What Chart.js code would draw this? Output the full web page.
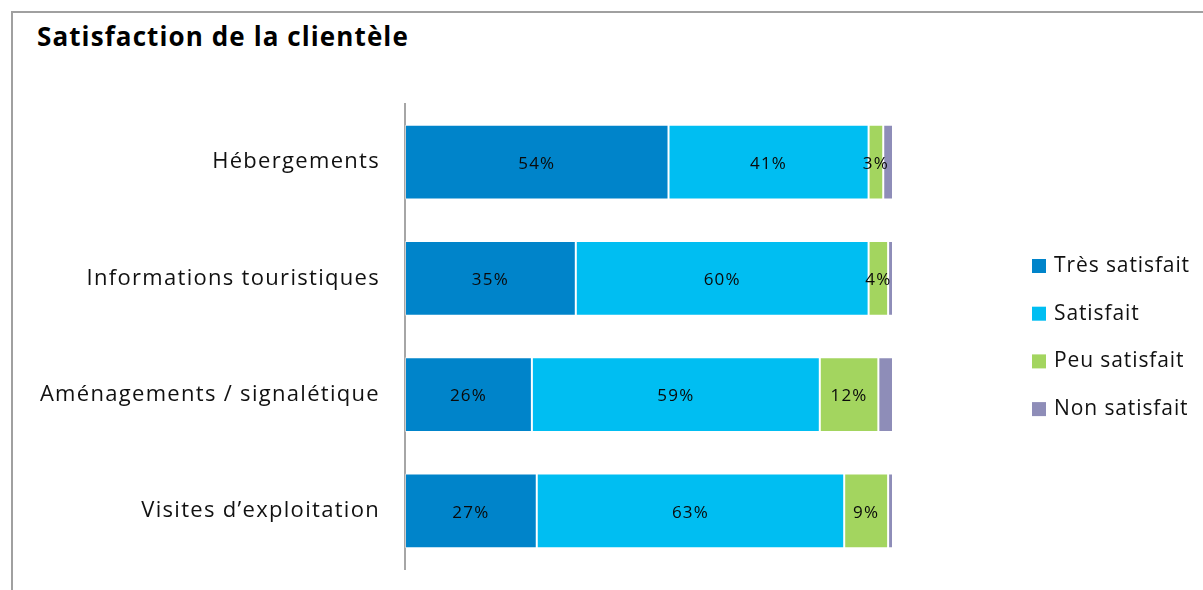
<!DOCTYPE html>
<html lang="fr">
<head>
<meta charset="utf-8">
<title>Satisfaction de la clientèle</title>
<script src="https://cdn.jsdelivr.net/npm/chart.js@4.4.1/dist/chart.umd.min.js"></script>
<style>
    html, body {
        margin: 0;
        padding: 0;
        background: #ffffff;
        width: 1203px;
        height: 590px;
        overflow: hidden;
    }

    .frame {
        position: absolute;
        left: 11px;
        top: 11px;
        right: 0;
        bottom: 0;
        border-top: 2px solid #a0a0a0;
        border-left: 2px solid #a0a0a0;
    }

    .title {
        position: absolute;
        left: 37px;
        top: 18px;
        font-family: "Open Sans", sans-serif;
        font-weight: 700;
        font-size: 26px;
        letter-spacing: 1.1px;
        color: #000000;
    }

    #chartBox {
        position: absolute;
        left: 0;
        top: 0;
        width: 1203px;
        height: 590px;
    }
</style>
</head>
<body>

<div class="frame"></div>
<div class="title">Satisfaction de la clientèle</div>

<div id="chartBox">
    <canvas id="satisfactionChart"></canvas>
</div>

<script>
/* =========================
   DATA
========================= */

const categories = [
    'Hébergements',
    'Informations touristiques',
    'Aménagements / signalétique',
    'Visites d\u2019exploitation'
];

const seriesLabels = [
    'Très satisfait',
    'Satisfait',
    'Peu satisfait',
    'Non satisfait'
];

const tresSatisfait = [54, 35, 26, 27];
const satisfait     = [41, 60, 59, 63];
const peuSatisfait  = [3, 4, 12, 9];
const nonSatisfait  = [2, 1, 3, 1];

const seriesColors = ['#0084ca', '#00bef2', '#a3d55f', '#8e8db8'];

// only the first three series carry a value label
const labelledSeries = [true, true, true, false];

/* =========================
   TEXT SPACING PLUGIN
========================= */

// widen the tick labels a little, the font is narrower than the house one
const tickSpacing = {

    id: 'tickSpacing',

    beforeDraw(chart) {
        chart.ctx.letterSpacing = '1.3px';
    },

    afterDraw(chart) {
        chart.ctx.letterSpacing = '0px';
    }
};

/* =========================
   VALUE LABELS PLUGIN
========================= */

const valueLabels = {

    id: 'valueLabels',

    afterDatasetsDraw(chart) {

        const ctx = chart.ctx;

        ctx.save();
        ctx.font = '17px "Open Sans", sans-serif';
        ctx.letterSpacing = '1.2px';
        ctx.fillStyle = '#0a0a0a';
        ctx.textAlign = 'center';
        ctx.textBaseline = 'middle';

        chart.data.datasets.forEach((dataset, di) => {

            if (!labelledSeries[di]) return;

            const meta = chart.getDatasetMeta(di);

            meta.data.forEach((bar, i) => {
                const x = (bar.x + bar.base) / 2;
                ctx.fillText(dataset.data[i] + '%', x, bar.y + 2);
            });
        });

        ctx.restore();
    }
};

/* =========================
   SIDE LEGEND PLUGIN
========================= */

const sideLegend = {

    id: 'sideLegend',

    afterDraw(chart) {

        const ctx = chart.ctx;
        const left = 1032;
        const top = 266;
        const step = 47.7;

        ctx.save();
        ctx.font = '21px "Open Sans", sans-serif';
        ctx.letterSpacing = '0.9px';
        ctx.textAlign = 'left';
        ctx.textBaseline = 'middle';

        chart.data.datasets.forEach((dataset, i) => {

            const y = top + i * step;

            ctx.fillStyle = dataset.backgroundColor;
            ctx.fillRect(left, y - 7, 14, 14);

            ctx.fillStyle = '#111111';
            ctx.fillText(dataset.label, left + 22, y);
        });

        ctx.restore();
    }
};

/* =========================
   CHART
========================= */

const datasetValues = [tresSatisfait, satisfait, peuSatisfait, nonSatisfait];

const context =
    document
        .getElementById('satisfactionChart')
        .getContext('2d');

new Chart(context, {

    type: 'bar',

    data: {

        labels: categories,

        datasets: datasetValues.map((values, i) => ({
            label: seriesLabels[i],
            data: values,
            backgroundColor: seriesColors[i],
            borderColor: 'rgba(255,255,255,0.45)',
            borderWidth: 1,
            borderSkipped: false,
            categoryPercentage: 1,
            barPercentage: 0.645
        }))
    },

    options: {

        indexAxis: 'y',
        responsive: true,
        maintainAspectRatio: false,
        animation: false,

        layout: {
            padding: {
                top: 104,
                bottom: 21,
                left: 0,
                right: 310
            }
        },

        plugins: {
            legend: { display: false },
            title: { display: false },
            tooltip: { enabled: false }
        },

        scales: {

            x: {
                stacked: true,
                min: 0,
                max: 100,
                display: false
            },

            y: {
                stacked: true,
                afterFit(scale) {
                    // fixed label column, no extra room above/below the axis
                    scale.width = 405;
                    scale.paddingTop = 0;
                    scale.paddingBottom = 0;
                },
                grid: {
                    display: false,
                    drawTicks: false
                },
                border: {
                    display: true,
                    color: '#a6a6a6',
                    width: 2
                },
                ticks: {
                    padding: 25,
                    color: '#111111',
                    font: {
                        family: '"Open Sans", sans-serif',
                        size: 22
                    }
                }
            }
        }
    },

    plugins: [tickSpacing, valueLabels, sideLegend]
});
</script>
</body>
</html>
